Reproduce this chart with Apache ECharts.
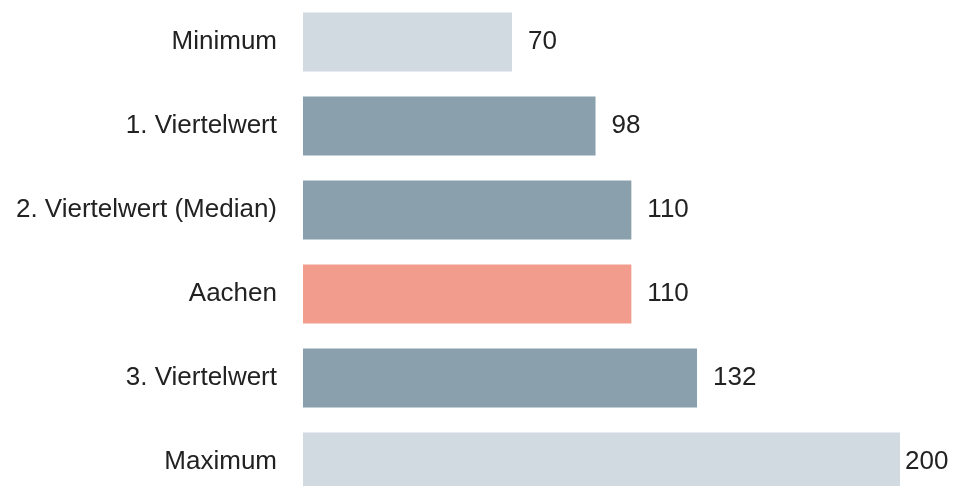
<!DOCTYPE html>
<html>
<head>
<meta charset="utf-8">
<script src="https://cdn.jsdelivr.net/npm/echarts@6/dist/echarts.min.js"></script>
<style>
  html, body { margin: 0; padding: 0; background: #fff; }
  #chart { width: 963px; height: 486px; }
</style>
</head>
<body>
<div id="chart"></div>
<script>
// Kategorien von oben nach unten
const categories = ['Minimum', '1. Viertelwert', '2. Viertelwert (Median)', 'Aachen', '3. Viertelwert', 'Maximum'];
const values = [70, 98, 110, 110, 132, 200];
const kinds = ['extreme', 'quartile', 'quartile', 'city', 'quartile', 'extreme'];

const colors = {
    extreme: '#d1dae1',
    quartile: '#8aa0ac',
    city: '#f19c8d'
};

const chart = echarts.init(document.getElementById('chart'));

chart.setOption({
    animation: false,
    textStyle: { fontFamily: 'Liberation Sans, Arial, sans-serif' },
    // letzte Zeile ragt unten etwas aus dem Bild heraus
    grid: { left: 303, top: 0, width: 597, height: 504, containLabel: false, outerBoundsMode: 'none' },
    xAxis: {
        type: 'value',
        min: 0,
        max: 200,
        show: false
    },
    yAxis: {
        type: 'category',
        inverse: true,
        data: categories,
        axisLine: { show: false },
        axisTick: { show: false },
        axisLabel: {
            margin: 26,
            fontSize: 26,
            color: '#222'
        }
    },
    series: [{
        type: 'bar',
        barWidth: 59,
        data: values.map((v, i) => ({
            value: v,
            itemStyle: { color: colors[kinds[i]] },
            label: { distance: v === 200 ? 5 : 16 }
        })),
        label: {
            show: true,
            position: 'right',
            fontSize: 26,
            color: '#222'
        }
    }]
});
</script>
</body>
</html>
